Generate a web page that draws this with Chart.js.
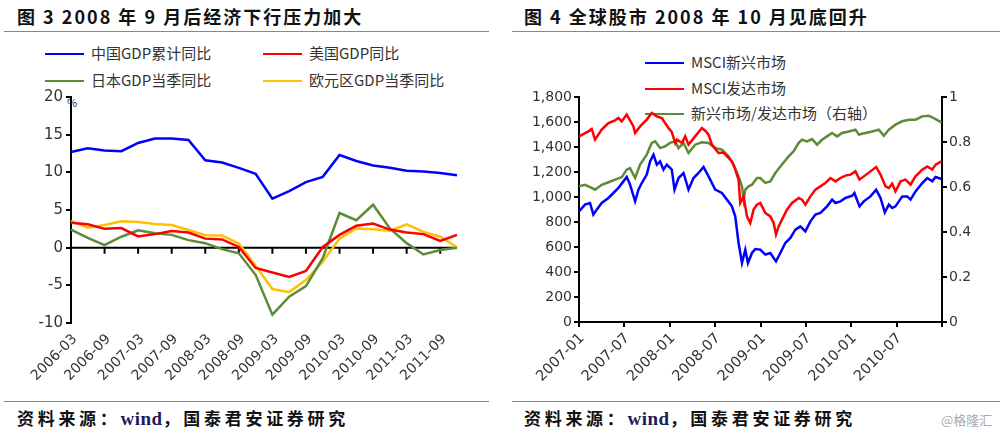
<!DOCTYPE html>
<html>
<head>
<meta charset="utf-8">
<script src="https://cdn.jsdelivr.net/npm/chart.js@4.4.1/dist/chart.umd.min.js"></script>
<style>
  body { margin: 0; width: 1000px; height: 434px; background: #fff; position: relative; overflow: hidden;
         font-family: "Noto Sans CJK SC", sans-serif; }
  .title { position: absolute; top: 3px; font-size: 18px; font-weight: 700; letter-spacing: 2px; color: #111; white-space: nowrap; }
  .rule { position: absolute; height: 0; border-top: 1.5px solid #888; }
  .src { position: absolute; top: 405px; font-size: 17px; font-weight: 700; letter-spacing: 3.7px; color: #111; white-space: nowrap; }
  .src b { font-family: "Liberation Serif", serif; color: #1c1c5c; letter-spacing: 0.5px; font-size: 19px; }
  .leg { position: absolute; font-size: 15px; line-height: 20px; color: #333; white-space: nowrap; }
  .leg i { display: inline-block; width: 39px; height: 2px; vertical-align: middle; margin-right: 7px; position: relative; top: -1px; }
  canvas { position: absolute; }
</style>
</head>
<body>
<div class="title" style="left:17px">图 3 2008 年 9 月后经济下行压力加大</div>
<div class="title" style="left:524px">图 4 全球股市 2008 年 10 月见底回升</div>
<div class="rule" style="left:4px;width:485px;top:31px"></div>
<div class="rule" style="left:512px;width:488px;top:31px"></div>
<div class="rule" style="left:4px;width:485px;top:401px"></div>
<div class="rule" style="left:512px;width:488px;top:401px"></div>
<div class="src" style="left:17px">资料来源：<b>wind</b>，国泰君安证券研究</div>
<div class="src" style="left:524px">资料来源：<b>wind</b>，国泰君安证券研究</div>
<div style="position:absolute;left:941px;top:410px;font-size:13px;color:#aaa">@格隆汇</div>

<div class="leg" style="left:45px;top:43px"><i style="background:#0000ff"></i>中国GDP累计同比</div>
<div class="leg" style="left:263px;top:43px"><i style="background:#ff0000"></i>美国GDP同比</div>
<div class="leg" style="left:45px;top:70px"><i style="background:#5b8c38"></i>日本GDP当季同比</div>
<div class="leg" style="left:263px;top:70px"><i style="background:#ffc000"></i>欧元区GDP当季同比</div>
<div style="position:absolute;left:67px;top:94px;font-size:11px;color:#333">%</div>

<div class="leg" style="left:645px;top:52px"><i style="background:#0000ff"></i>MSCI新兴市场</div>
<div class="leg" style="left:645px;top:78px"><i style="background:#ff0000"></i>MSCI发达市场</div>
<div class="leg" style="left:645px;top:103px"><i style="background:#5b8c38"></i>新兴市场/发达市场（右轴）</div>

<canvas id="gdp" width="490" height="310" style="left:0;top:85px"></canvas>
<canvas id="msci" width="500" height="310" style="left:500px;top:85px"></canvas>

<script>
  // 图3: quarterly GDP growth, %
  const quarters = ["2006-03", "2006-06", "2006-09", "2006-12", "2007-03", "2007-06", "2007-09", "2007-12",
                    "2008-03", "2008-06", "2008-09", "2008-12", "2009-03", "2009-06", "2009-09", "2009-12",
                    "2010-03", "2010-06", "2010-09", "2010-12", "2011-03", "2011-06", "2011-09", "2011-12"];
  const chinaGdp = [12.7, 13.2, 12.9, 12.8, 13.9, 14.5, 14.5, 14.3, 11.6, 11.3, 10.6, 9.8,
                    6.5, 7.5, 8.7, 9.4, 12.3, 11.5, 10.9, 10.6, 10.2, 10.1, 9.9, 9.6];
  const usGdp = [3.3, 3.1, 2.5, 2.6, 1.5, 1.8, 2.2, 2.0, 1.2, 1.1, 0.1, -2.7,
                 -3.3, -3.9, -3.1, 0.1, 1.7, 2.9, 3.2, 2.4, 2.0, 1.8, 0.9, 1.7];
  const japanGdp = [2.4, 1.3, 0.35, 1.45, 2.3, 1.9, 1.7, 1.0, 0.6, -0.2, -0.75, -3.6,
                    -8.9, -6.5, -5.1, -1.4, 4.6, 3.65, 5.7, 2.55, 0.6, -0.9, -0.3, 0.0];
  const euroGdp = [3.55, 2.65, 3.0, 3.5, 3.4, 3.15, 3.0, 2.35, 1.65, 1.6, 0.55, -2.4,
                   -5.5, -5.9, -4.3, -1.85, 1.2, 2.55, 2.45, 2.25, 3.1, 2.1, 1.45, 0.05];

  // 图4: MSCI indices (left axis) and EM/DM ratio (right axis); x = months since 2007-01
  const dmMonths = [0, 1.24, 1.68, 2.12, 3.0, 3.89, 4.77, 5.21, 5.65, 6.31, 7.2, 7.42, 8.08, 8.96, 9.62, 10.29,
                    10.95, 11.39, 11.83, 12.27, 12.72, 12.94, 13.6, 14.04, 14.48, 15.36, 16.25, 16.69, 17.13, 17.57,
                    18.45, 19.12, 19.78, 20.22, 20.66, 21.1, 21.32, 21.77, 22.21, 22.65, 23.09, 23.53, 23.97, 24.64,
                    25.3, 25.74, 26.05, 26.4, 26.84, 27.5, 28.17, 29.05, 29.49, 29.93, 30.6, 31.26, 31.92, 32.58,
                    33.25, 33.91, 34.57, 35.23, 35.89, 36.56, 37.09, 37.66, 38.54, 39.29, 39.87, 40.53, 40.97, 41.41,
                    41.85, 42.52, 43.18, 43.84, 44.5, 45.39, 46.05, 46.71, 47.15, 47.95];
  const dmIndex = [1485, 1525, 1544, 1459, 1539, 1592, 1613, 1632, 1605, 1659, 1565, 1512, 1565, 1619, 1672, 1645,
                   1632, 1592, 1552, 1520, 1432, 1460, 1432, 1485, 1419, 1485, 1552, 1530, 1499, 1419,
                   1352, 1355, 1312, 1285, 1219, 1139, 952, 1005, 845, 792, 899, 939, 952, 872,
                   845, 792, 699, 765, 819, 899, 952, 992, 979, 939, 1005, 1059, 1085, 1112,
                   1152, 1125, 1152, 1171, 1179, 1205, 1139, 1165, 1205, 1240, 1179, 1085, 1072, 1107,
                   1045, 1125, 1139, 1099, 1165, 1219, 1245, 1219, 1259, 1285];
  const emMonths = [0, 0.79, 1.46, 1.9, 2.34, 3.0, 3.89, 4.55, 5.21, 5.87, 6.31, 6.75, 7.42, 7.86, 8.3, 8.96,
                    9.4, 9.85, 10.29, 10.73, 11.17, 11.61, 12.27, 12.63, 13.16, 13.82, 14.48, 15.14, 15.81, 16.47,
                    17.13, 18.01, 18.9, 19.56, 20.22, 20.66, 21.1, 21.55, 21.99, 22.34, 22.87, 23.31, 23.97, 24.64,
                    25.3, 25.74, 26.05, 26.62, 27.28, 27.95, 28.61, 29.27, 29.93, 30.6, 31.26, 31.92, 32.8, 33.47,
                    33.91, 34.57, 35.23, 36.12, 36.42, 37.09, 37.66, 38.54, 39.29, 39.87, 40.44, 40.97, 41.41, 41.85,
                    42.74, 43.4, 43.84, 44.5, 45.39, 46.05, 46.71, 47.15, 47.95];
  const emIndex = [885, 939, 952, 859, 899, 952, 992, 1032, 1072, 1125, 1160, 1099, 965, 1059, 1112, 1179,
                   1285, 1339, 1259, 1285, 1219, 1259, 1219, 1059, 1152, 1192, 1059, 1152, 1192, 1240,
                   1165, 1059, 1032, 979, 925, 845, 632, 472, 579, 472, 552, 584, 579, 539,
                   552, 512, 485, 552, 632, 672, 739, 765, 725, 805, 859, 872, 925, 979,
                   952, 965, 992, 1010, 1032, 925, 965, 1005, 1059, 992, 877, 939, 912, 925,
                   1005, 1005, 979, 1045, 1112, 1152, 1125, 1160, 1144];
  const ratioMonths = [0, 0.79, 1.68, 2.12, 3.0, 3.89, 4.77, 5.65, 6.31, 6.75, 7.42, 8.08, 8.96, 9.62, 10.07,
                       10.73, 11.39, 12.05, 12.72, 13.16, 13.82, 14.48, 15.36, 16.25, 17.13, 18.01, 18.9, 19.78,
                       20.44, 21.1, 21.55, 21.77, 21.99, 22.43, 22.87, 23.53, 23.97, 24.64, 25.3, 25.96, 26.84,
                       27.72, 28.39, 29.05, 29.49, 30.16, 30.82, 31.48, 32.14, 32.8, 33.47, 34.13, 34.79, 35.67,
                       36.56, 37.0, 37.88, 38.76, 39.65, 40.31, 40.97, 41.85, 42.74, 43.62, 44.5, 45.39, 46.27,
                       47.15, 47.95];
  const emDmRatio = [0.603, 0.61, 0.596, 0.588, 0.61, 0.621, 0.633, 0.644, 0.677, 0.684, 0.64, 0.70, 0.744, 0.796,
                     0.803, 0.773, 0.781, 0.796, 0.803, 0.773, 0.796, 0.751, 0.788, 0.799, 0.796, 0.773, 0.766,
                     0.736, 0.70, 0.647, 0.603, 0.544, 0.588, 0.603, 0.61, 0.64, 0.64, 0.618, 0.625, 0.662,
                     0.70, 0.736, 0.759, 0.796, 0.81, 0.803, 0.813, 0.788, 0.81, 0.825, 0.84, 0.825, 0.84,
                     0.847, 0.855, 0.833, 0.84, 0.847, 0.855, 0.828, 0.855, 0.877, 0.892, 0.899, 0.899, 0.914,
                     0.917, 0.902, 0.887];
  const msciTickLabels = ["2007-01", "2007-07", "2008-01", "2008-07", "2009-01", "2009-07", "2010-01", "2010-07"];

  Chart.defaults.font.family = "'DejaVu Sans', sans-serif";
  Chart.defaults.color = "#333";
  Chart.defaults.animation = false;

  const toPoints = (xs, ys) => xs.map((x, i) => ({ x: x, y: ys[i] }));

  // x axis of 图3 sits on the zero line, with tick marks every half year
  const zeroAxis = {
    id: "zeroAxis",
    beforeDatasetsDraw(chart) {
      const { ctx, chartArea, scales } = chart;
      const y0 = scales.y.getPixelForValue(0);
      ctx.save();
      ctx.strokeStyle = "#000";
      ctx.lineWidth = 2;
      ctx.beginPath();
      ctx.moveTo(chartArea.left, y0);
      ctx.lineTo(chartArea.right, y0);
      scales.x.ticks.forEach((t, i) => {
        if (i > 0 && i % 2 === 0) {
          const px = scales.x.getPixelForTick(i);
          ctx.moveTo(px, y0);
          ctx.lineTo(px, y0 + 6);
        }
      });
      ctx.stroke();
      ctx.restore();
    }
  };

  const axisGrid = { display: true, drawOnChartArea: false, drawTicks: true, tickLength: 5, color: "#000", lineWidth: 2 };
  const axisBorder = { display: true, color: "#000", width: 2 };

  new Chart(document.getElementById("gdp"), {
    type: "line",
    data: {
      labels: quarters,
      datasets: [
        { label: "中国GDP累计同比", data: chinaGdp, borderColor: "#0000ff" },
        { label: "美国GDP同比", data: usGdp, borderColor: "#ff0000" },
        { label: "日本GDP当季同比", data: japanGdp, borderColor: "#5b8c38" },
        { label: "欧元区GDP当季同比", data: euroGdp, borderColor: "#ffc000" }
      ]
    },
    options: {
      responsive: false,
      events: [],
      elements: { line: { borderWidth: 2.5, tension: 0 }, point: { radius: 0 } },
      layout: { padding: { top: 11, right: 33, left: 0, bottom: 0 } },
      plugins: { legend: { display: false }, tooltip: { enabled: false } },
      scales: {
        x: {
          grid: { display: false, drawTicks: false },
          border: { display: false },
          ticks: {
            autoSkip: false, minRotation: 45, maxRotation: 45, padding: 8, labelOffset: 4,
            font: { size: 14 },
            callback: (v, i) => (i % 2 === 0 ? quarters[i] : "")
          },
          afterFit: (s) => { s.height = 72; }
        },
        y: {
          min: -10, max: 20,
          grid: axisGrid, border: axisBorder,
          ticks: { stepSize: 5, padding: 3, font: { size: 15 } },
          afterFit: (s) => { s.width = 71; }
        }
      }
    },
    plugins: [zeroAxis]
  });

  new Chart(document.getElementById("msci"), {
    type: "line",
    data: {
      datasets: [
        { label: "MSCI新兴市场", data: toPoints(emMonths, emIndex), borderColor: "#0000ff", yAxisID: "y" },
        { label: "MSCI发达市场", data: toPoints(dmMonths, dmIndex), borderColor: "#ff0000", yAxisID: "y" },
        { label: "新兴市场/发达市场（右轴）", data: toPoints(ratioMonths, emDmRatio), borderColor: "#5b8c38", yAxisID: "y1" }
      ]
    },
    options: {
      responsive: false,
      events: [],
      elements: { line: { borderWidth: 2.5, tension: 0 }, point: { radius: 0 } },
      layout: { padding: { top: 12, right: 0, left: 0, bottom: 0 } },
      plugins: { legend: { display: false }, tooltip: { enabled: false } },
      scales: {
        x: {
          type: "linear", min: 0, max: 48,
          grid: axisGrid, border: axisBorder,
          ticks: {
            stepSize: 6, autoSkip: false, minRotation: 45, maxRotation: 45, padding: 3, labelOffset: 3,
            font: { size: 14.5 },
            callback: (v) => msciTickLabels[v / 6] || ""
          },
          afterFit: (s) => { s.height = 73; }
        },
        y: {
          position: "left", min: 0, max: 1800,
          grid: axisGrid, border: axisBorder,
          ticks: { stepSize: 200, padding: 2, font: { size: 14 }, callback: (v) => v.toLocaleString("en-US") },
          afterFit: (s) => { s.width = 79; }
        },
        y1: {
          position: "right", min: 0, max: 1,
          grid: axisGrid, border: axisBorder,
          ticks: { stepSize: 0.2, padding: 2, font: { size: 14 }, callback: (v) => String(Number(v.toFixed(1))) },
          afterFit: (s) => { s.width = 58; }
        }
      }
    }
  });
</script>
</body>
</html>
